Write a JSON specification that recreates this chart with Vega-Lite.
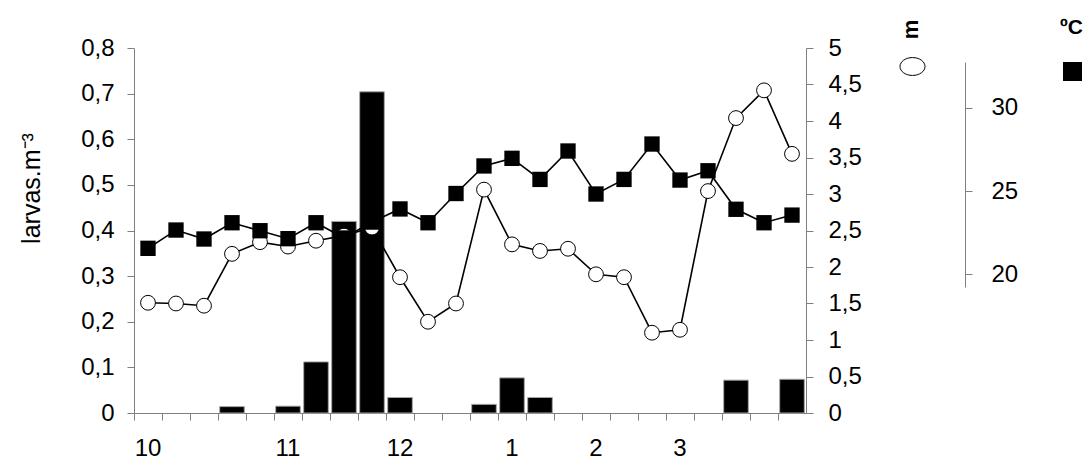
{
  "$schema": "https://vega.github.io/schema/vega-lite/v6.json",
  "width": 672,
  "height": 365,
  "autosize": "none",
  "padding": {"left": 134, "top": 48, "right": 279, "bottom": 48},
  "background": "white",
  "config": {
    "view": {"stroke": null},
    "font": "Liberation Sans",
    "axis": {
      "labelFont": "Liberation Sans",
      "titleFont": "Liberation Sans",
      "labelFontSize": 24,
      "labelColor": "black",
      "titleColor": "black",
      "domainColor": "#7f7f7f",
      "tickColor": "#7f7f7f",
      "tickSize": 7,
      "grid": false,
      "labelOverlap": false,
      "labelFontWeight": "normal"
    }
  },
  "data": {
    "values": [
      {"i": 0, "larvas": null, "m": 1.51, "temp": 21.55},
      {"i": 1, "larvas": null, "m": 1.50, "temp": 22.65},
      {"i": 2, "larvas": null, "m": 1.47, "temp": 22.11},
      {"i": 3, "larvas": 0.014, "m": 2.18, "temp": 23.09},
      {"i": 4, "larvas": null, "m": 2.34, "temp": 22.61},
      {"i": 5, "larvas": 0.015, "m": 2.28, "temp": 22.13},
      {"i": 6, "larvas": 0.112, "m": 2.36, "temp": 23.09},
      {"i": 7, "larvas": 0.42, "m": 2.43, "temp": 22.17},
      {"i": 8, "larvas": 0.704, "m": 2.54, "temp": 23.13},
      {"i": 9, "larvas": 0.034, "m": 1.86, "temp": 23.92},
      {"i": 10, "larvas": null, "m": 1.25, "temp": 23.09},
      {"i": 11, "larvas": null, "m": 1.50, "temp": 24.85},
      {"i": 12, "larvas": 0.019, "m": 3.06, "temp": 26.51},
      {"i": 13, "larvas": 0.077, "m": 2.31, "temp": 26.97},
      {"i": 14, "larvas": 0.034, "m": 2.22, "temp": 25.70},
      {"i": 15, "larvas": null, "m": 2.25, "temp": 27.41},
      {"i": 16, "larvas": null, "m": 1.90, "temp": 24.82},
      {"i": 17, "larvas": null, "m": 1.86, "temp": 25.70},
      {"i": 18, "larvas": null, "m": 1.10, "temp": 27.83},
      {"i": 19, "larvas": null, "m": 1.14, "temp": 25.66},
      {"i": 20, "larvas": null, "m": 3.04, "temp": 26.22},
      {"i": 21, "larvas": 0.072, "m": 4.04, "temp": 23.90},
      {"i": 22, "larvas": null, "m": 4.42, "temp": 23.09},
      {"i": 23, "larvas": 0.074, "m": 3.55, "temp": 23.55}
    ]
  },
  "encoding": {
    "x": {
      "field": "i",
      "type": "ordinal",
      "scale": {"paddingInner": 0, "paddingOuter": 0},
      "axis": {
        "title": null,
        "labelAngle": 0,
        "bandPosition": 0,
        "labelPadding": 16,
        "labelExpr": "datum.value == 0 ? '10' : datum.value == 5 ? '11' : datum.value == 9 ? '12' : datum.value == 13 ? '1' : datum.value == 16 ? '2' : datum.value == 19 ? '3' : ''"
      }
    }
  },
  "layer": [
    {
      "mark": {"type": "bar", "fill": "black", "stroke": "#a6a6a6", "strokeWidth": 1, "width": {"band": 0.88}},
      "encoding": {
        "y": {
          "field": "larvas",
          "type": "quantitative",
          "scale": {"domain": [0, 0.8], "nice": false},
          "axis": {
            "orient": "left",
            "values": [0, 0.1, 0.2, 0.3, 0.4, 0.5, 0.6, 0.7, 0.8],
            "labelExpr": "datum.value == 0 ? '0' : replace(format(datum.value, '.1f'), '.', ',')",
            "labelPadding": 13,
            "title": "larvas.m⁻³",
            "titleFontSize": 25,
            "titleFontWeight": "normal",
            "titleAngle": 270,
            "titleX": -90,
            "titleY": 140,
            "titleAlign": "center",
            "titleBaseline": "bottom"
          }
        }
      }
    },
    {
      "encoding": {
        "y": {
          "field": "m",
          "type": "quantitative",
          "scale": {"domain": [0, 5], "nice": false},
          "axis": {
            "orient": "right",
            "values": [0, 0.5, 1, 1.5, 2, 2.5, 3, 3.5, 4, 4.5, 5],
            "labelExpr": "replace(format(datum.value, '~g'), '.', ',')",
            "labelPadding": 15,
            "labelOverlap": false,
            "title": "m",
            "titleFontSize": 22,
            "titleFontWeight": "bold",
            "titleAngle": 270,
            "titleX": 104,
            "titleY": -19,
            "titleAlign": "center",
            "titleBaseline": "middle"
          }
        }
      },
      "layer": [
        {
          "mark": {"type": "line", "color": "black", "strokeWidth": 1.6}
        },
        {
          "mark": {"type": "point", "filled": true, "stroke": "black", "strokeWidth": 1, "size": 220, "opacity": 1, "shape": "circle"},
          "encoding": {
            "fill": {
              "datum": "m",
              "scale": {"range": ["white"]},
              "legend": {
                "orient": "none",
                "legendX": 769,
                "legendY": 9,
                "title": null,
                "padding": 0,
                "labelExpr": "''",
                "symbolType": "M-1.4,0A1.4,1,0,1,0,1.4,0A1.4,1,0,1,0,-1.4,0Z",
                "symbolSize": 320,
                "symbolStrokeColor": "black",
                "symbolStrokeWidth": 1
              }
            }
          }
        }
      ]
    },
    {
      "encoding": {
        "y": {
          "field": "temp",
          "type": "quantitative",
          "scale": {"domain": [19.22, 32.77], "range": [239, 14], "nice": false, "zero": false},
          "axis": {
            "orient": "right",
            "offset": 159,
            "values": [20, 25, 30],
            "labelPadding": 19,
            "title": "ºC",
            "titleFontSize": 21,
            "titleFontWeight": "bold",
            "titleAngle": 0,
            "titleX": 106,
            "titleY": -21,
            "titleAlign": "center",
            "titleBaseline": "middle"
          }
        }
      },
      "layer": [
        {
          "mark": {"type": "line", "color": "black", "strokeWidth": 1.6}
        },
        {
          "mark": {"type": "point", "filled": true, "stroke": "black", "strokeWidth": 0, "size": 235, "opacity": 1, "shape": "square"},
          "encoding": {
            "fill": {
              "datum": "ºC",
              "scale": {"range": ["black"]},
              "legend": {
                "orient": "none",
                "legendX": 929,
                "legendY": 14,
                "title": null,
                "padding": 0,
                "labelExpr": "''",
                "symbolType": "square",
                "symbolSize": 361,
                "symbolStrokeWidth": 0
              }
            }
          }
        }
      ]
    }
  ],
  "resolve": {"scale": {"y": "independent", "fill": "independent"}}
}
